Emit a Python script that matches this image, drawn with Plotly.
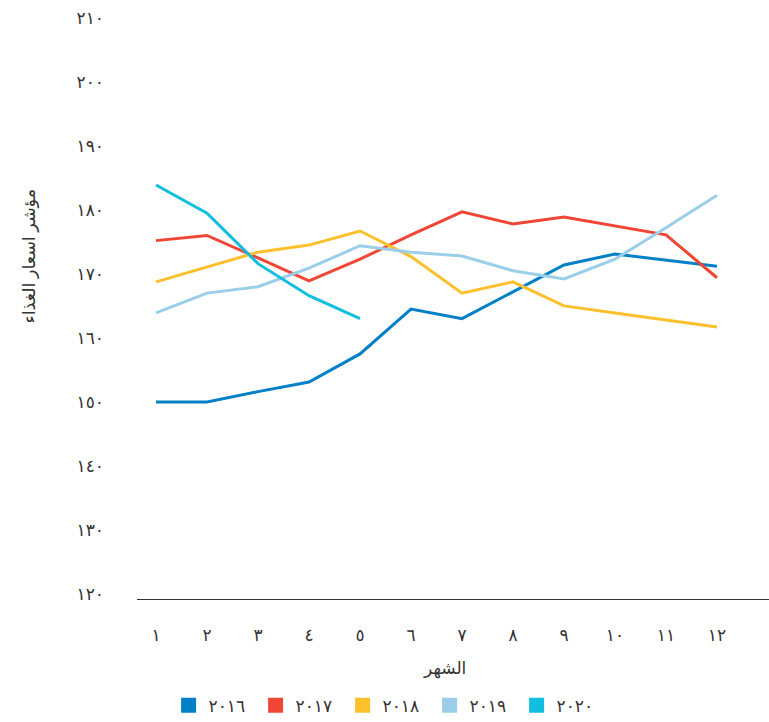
import plotly.graph_objects as go

months = [1, 2, 3, 4, 5, 6, 7, 8, 9, 10, 11, 12]
month_labels = ["١", "٢", "٣", "٤", "٥", "٦", "٧", "٨", "٩", "١٠", "١١", "١٢"]
y_ticks = [120, 130, 140, 150, 160, 170, 180, 190, 200, 210]
y_labels = ["١٢٠", "١٣٠", "١٤٠", "١٥٠", "١٦٠", "١٧٠", "١٨٠", "١٩٠", "٢٠٠", "٢١٠"]

series_names = ["٢٠١٦", "٢٠١٧", "٢٠١٨", "٢٠١٩", "٢٠٢٠"]
v2016 = [150, 150, 151.6, 153.1, 157.5, 164.5, 163, 167.2, 171.4, 173.1, 172.2, 171.2]
v2017 = [175.2, 176, 172.5, 168.9, 172.3, 176.1, 179.7, 177.8, 178.9, 177.5, 176.1, 169.4]
v2018 = [168.75, 171.1, 173.4, 174.5, 176.7, 172.7, 167.0, 168.75, 165, 163.9, 162.8, 161.7]
v2019 = [163.9, 167, 168, 170.9, 174.4, 173.4, 172.8, 170.5, 169.2, 172.3, 177.2, 182.3]
v2020 = [183.9, 179.5, 171.6, 166.6, 163]
series_values = [v2016, v2017, v2018, v2019, v2020]
colors = ["#0080C6", "#F04635", "#FCC02C", "#9ACEE9", "#11BEDF"]

x_title = "الشهر"
y_title = "مؤشر اسعار الغذاء"

FONT = "Noto Sans, DejaVu Sans, sans-serif"
TXT = "#333333"

fig = go.Figure()
for name, vals, col in zip(series_names, series_values, colors):
    fig.add_trace(go.Scatter(
        x=months[:len(vals)], y=vals, mode="lines", name=name,
        line=dict(color=col, width=3), showlegend=False))
for name, col in zip(series_names, colors):
    fig.add_trace(go.Scatter(
        x=[None], y=[None], mode="markers", name=name,
        marker=dict(symbol="square", size=15, color=col), showlegend=True))

fig.update_layout(
    width=769, height=722,
    margin=dict(l=137, r=0, t=16, b=123, autoexpand=False),
    paper_bgcolor="white", plot_bgcolor="white",
    font=dict(family=FONT, size=17, color=TXT),
    legend=dict(orientation="h", x=0.05, xanchor="left", y=-0.183, yanchor="middle",
                entrywidth=42, entrywidthmode="pixels",
                font=dict(family=FONT, size=17, color=TXT), itemsizing="trace"),
    xaxis=dict(range=[0.627, 13.02], tickmode="array", tickvals=months, ticktext=month_labels,
               showgrid=False, zeroline=False, showline=True, linecolor="#333333", linewidth=1,
               ticks="", ticklabelstandoff=21,
               tickfont=dict(size=17, color=TXT)),
    yaxis=dict(range=[119.2, 210.3], tickmode="array", tickvals=y_ticks, ticktext=y_labels,
               showgrid=False, zeroline=False, showline=False,
               ticks="", ticklabelstandoff=32,
               tickfont=dict(size=17, color=TXT)),
    annotations=[
        dict(text=x_title, xref="paper", yref="paper", x=0.487, y=-0.117,
             xanchor="center", yanchor="middle", showarrow=False,
             font=dict(family=FONT, size=17, color=TXT)),
        dict(text=y_title, xref="paper", yref="paper", x=-0.172, y=0.588,
             xanchor="center", yanchor="middle", showarrow=False, textangle=-90,
             font=dict(family=FONT, size=17.5, color=TXT)),
    ],
)

fig.write_html("out.html")
